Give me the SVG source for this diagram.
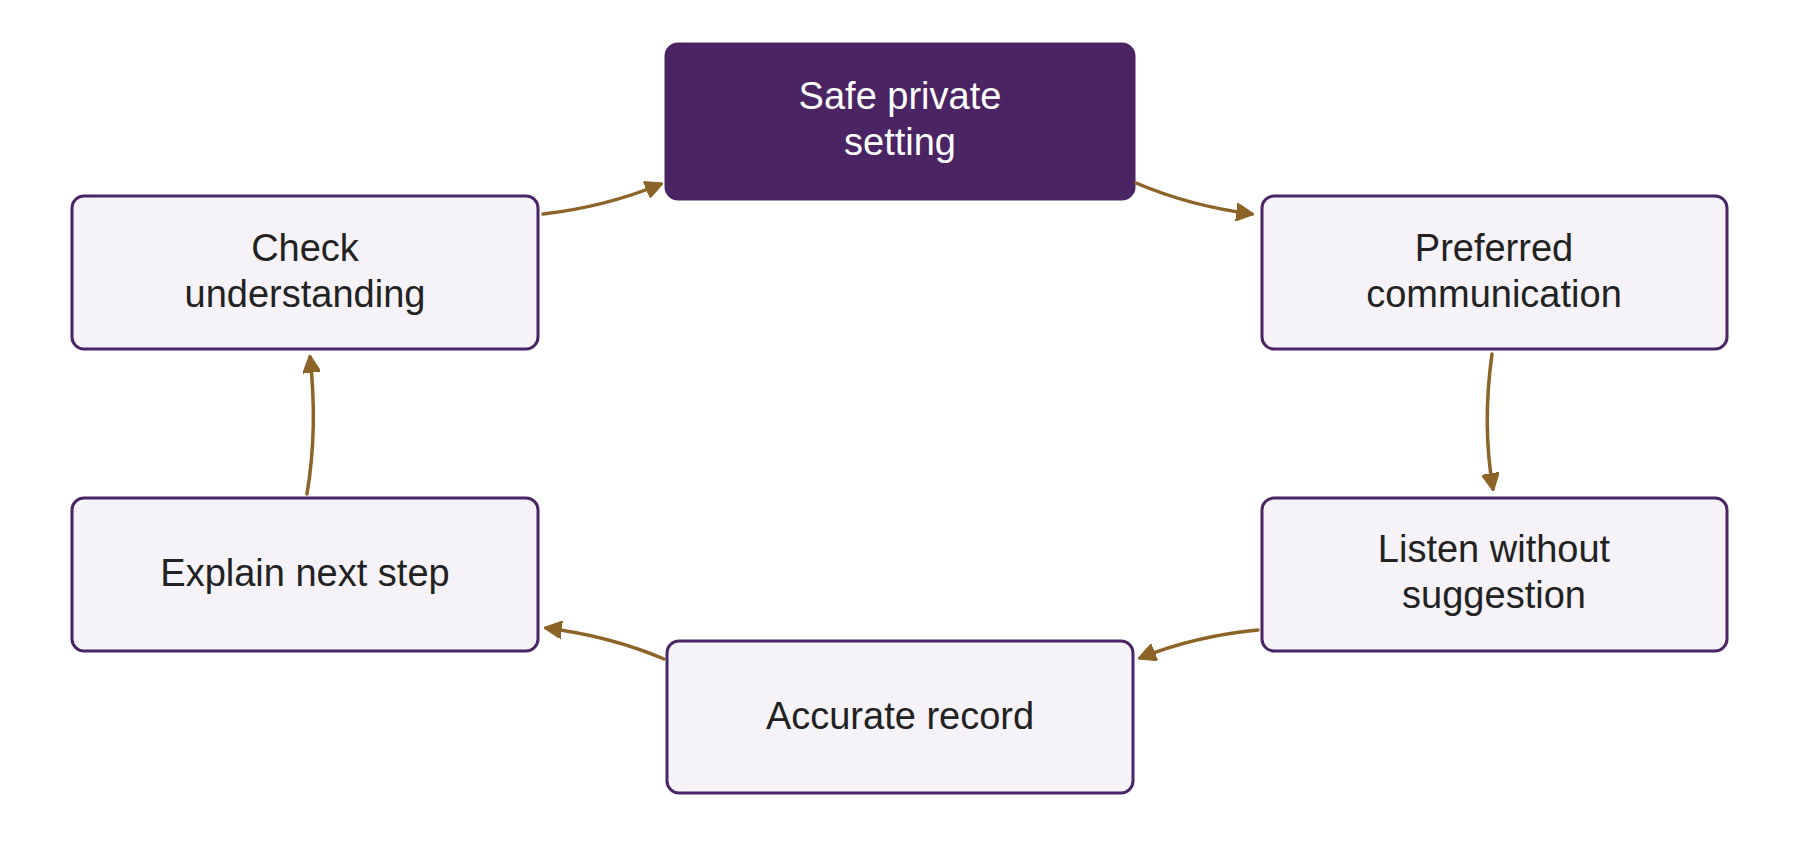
<svg xmlns="http://www.w3.org/2000/svg" width="1800" height="864" viewBox="0 0 1800 864">
<style>
.n{fill:#f5f3f8;stroke:#4a2466;stroke-width:3}
.t{font-family:"Liberation Sans",Arial,sans-serif;font-size:38px;fill:#222;text-anchor:middle}
.e{fill:none;stroke:#8c6428;stroke-width:3.5;stroke-linecap:round}
</style>
<defs><marker id="a" viewBox="0 0 10 10" refX="9" refY="5" markerWidth="5" markerHeight="5" orient="auto" markerUnits="strokeWidth"><path d="M0,0 L10,5 L0,10 z" fill="#8c6428" stroke="#8c6428" stroke-linejoin="round"/></marker></defs>
<rect width="1800" height="864" fill="#fff"/>
<g id="safe"><rect x="666" y="44" width="468" height="155" rx="12" fill="#4b2463" stroke="#4b2463" stroke-width="3"/><text class="t" x="900" y="109" style="fill:#fff">Safe private</text><text class="t" x="900" y="155" style="fill:#fff">setting</text></g>
<g id="pref"><rect class="n" x="1262" y="196" width="465" height="153" rx="12"/><text class="t" x="1494" y="261">Preferred</text><text class="t" x="1494" y="307">communication</text></g>
<g id="listen"><rect class="n" x="1262" y="498" width="465" height="153" rx="12"/><text class="t" x="1494" y="562">Listen without</text><text class="t" x="1494" y="608">suggestion</text></g>
<g id="record"><rect class="n" x="667" y="641" width="466" height="152" rx="12"/><text class="t" x="900" y="729">Accurate record</text></g>
<g id="explain"><rect class="n" x="72" y="498" width="466" height="153" rx="12"/><text class="t" x="305" y="586">Explain next step</text></g>
<g id="check"><rect class="n" x="72" y="196" width="466" height="153" rx="12"/><text class="t" x="305" y="261">Check</text><text class="t" x="305" y="307">understanding</text></g>
<g id="edges">
<path class="e" marker-end="url(#a)" d="M1136,183 Q1190,206 1252,214"/>
<path class="e" marker-end="url(#a)" d="M1492,354 Q1482,425 1493,489"/>
<path class="e" marker-end="url(#a)" d="M1258,630 Q1195,636 1140,658"/>
<path class="e" marker-end="url(#a)" d="M664,659 Q610,636 546,628"/>
<path class="e" marker-end="url(#a)" d="M307,494 Q318,428 310,357"/>
<path class="e" marker-end="url(#a)" d="M543,214 Q605,207 661,184"/>
</g>
</svg>
